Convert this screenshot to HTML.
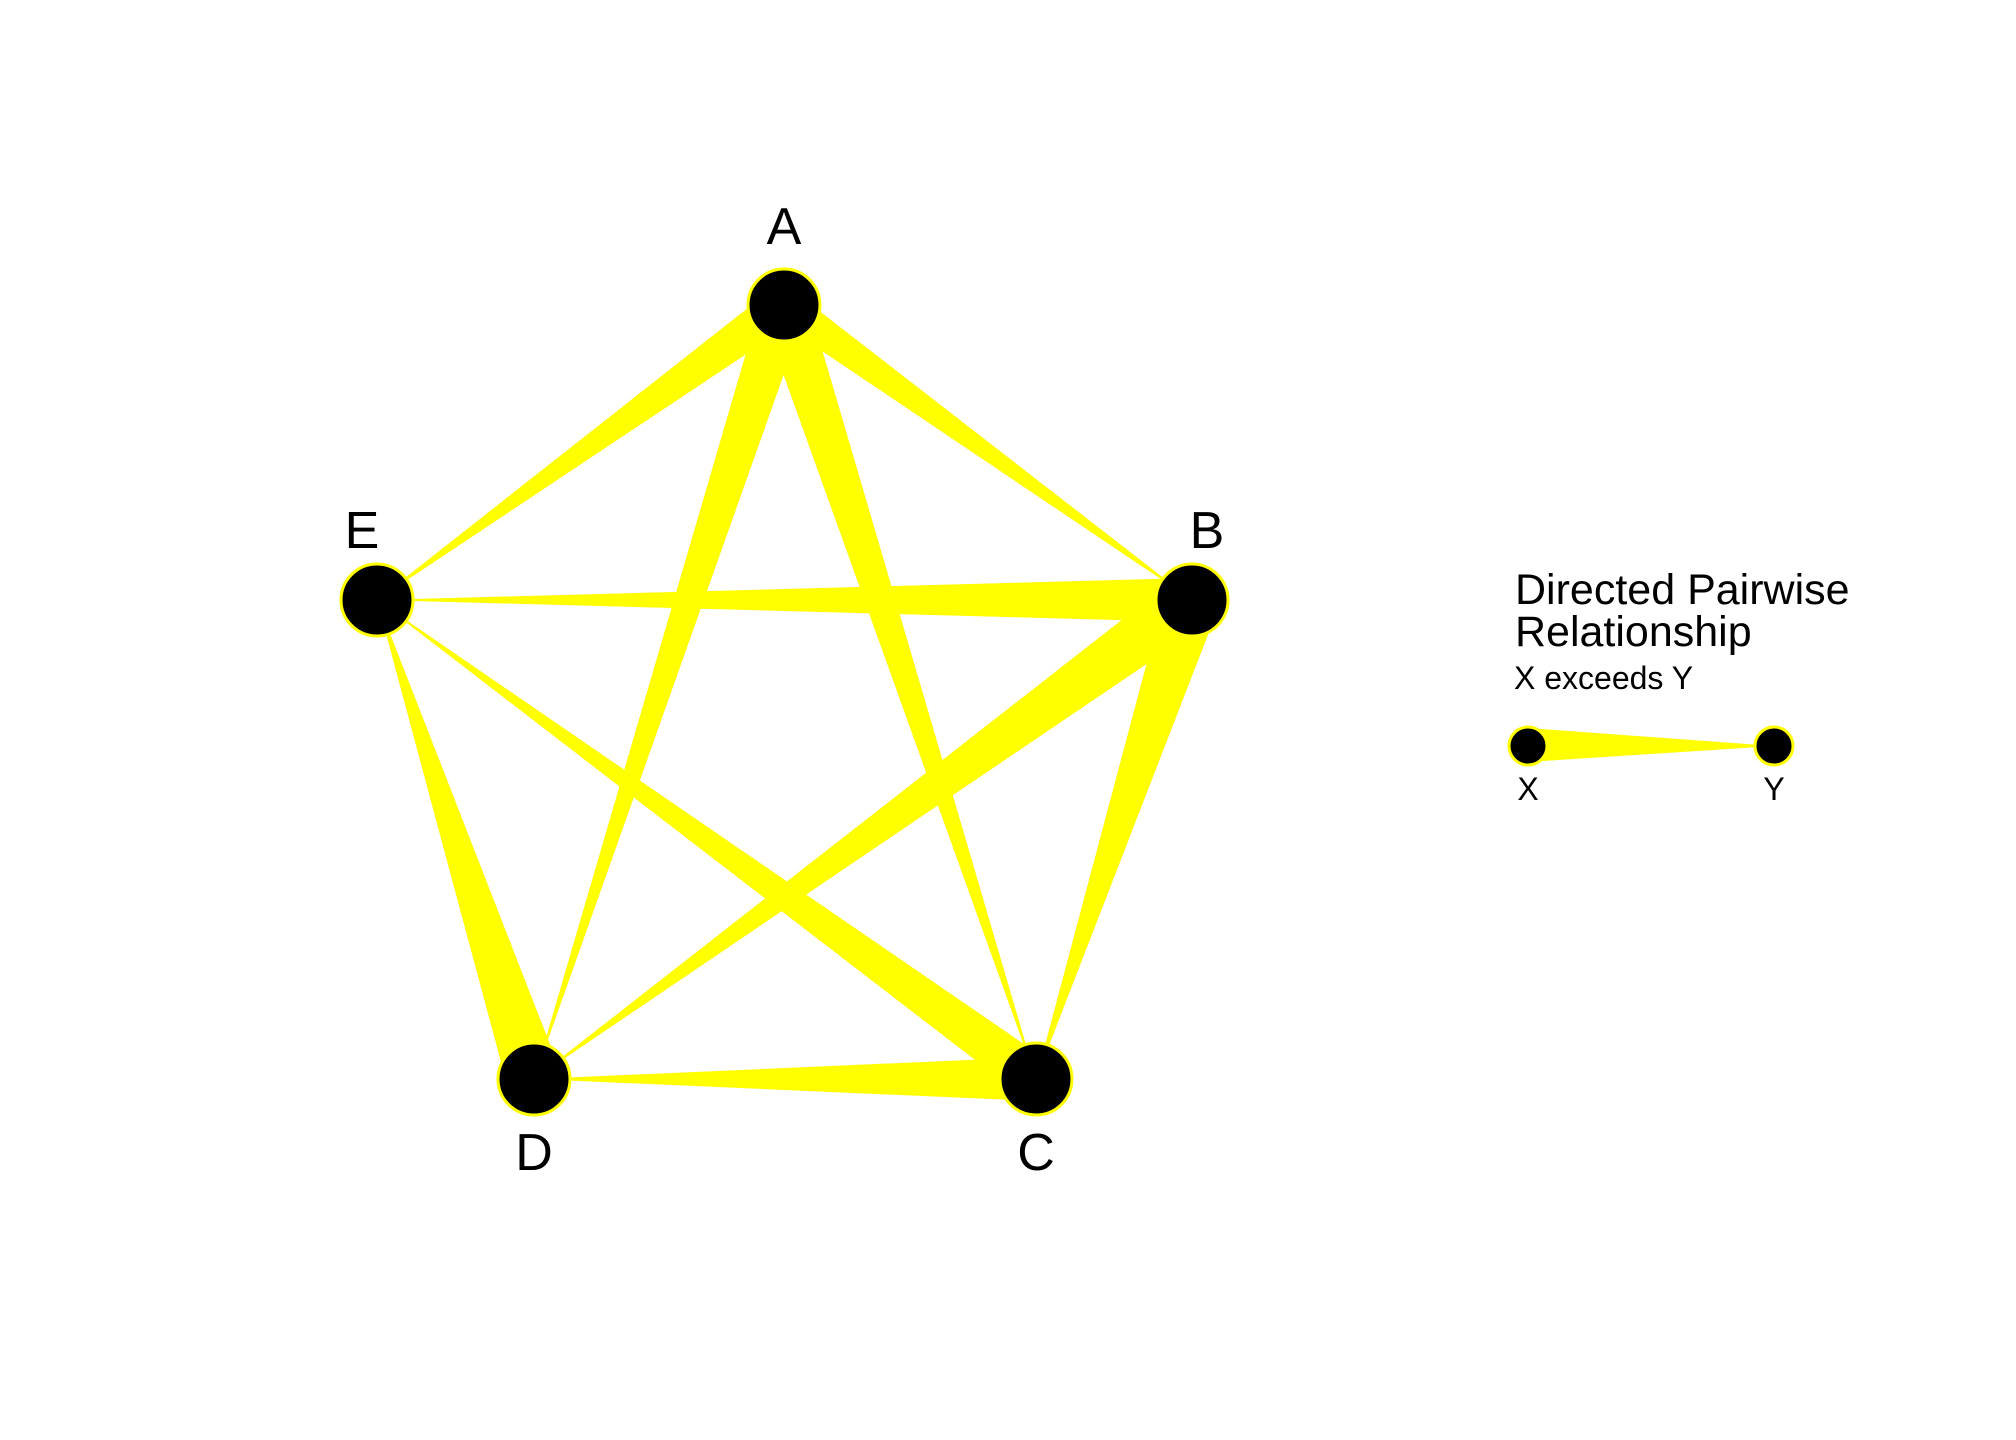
<!DOCTYPE html>
<html><head><meta charset="utf-8"><style>
html,body{margin:0;padding:0;background:#fff;width:2016px;height:1440px;overflow:hidden}
svg{display:block;font-family:"Liberation Sans",Arial,sans-serif}
</style></head><body>
<svg id="chart" width="2016" height="1440" viewBox="0 0 2016 1440">
<g id="edges"></g>
<g id="nodes"></g>
<g id="legend">
<text x="1515" y="604" font-size="43">Directed Pairwise</text>
<text x="1515" y="646" font-size="43">Relationship</text>
<text x="1514" y="689" font-size="32">X exceeds Y</text>
<polygon points="1528,728 1528,762 1774,746" fill="#ffff00"/>
<circle cx="1528" cy="746" r="19" fill="#000" stroke="#ffff00" stroke-width="3"/>
<circle cx="1774" cy="746" r="19" fill="#000" stroke="#ffff00" stroke-width="3"/>
<text x="1528" y="800" font-size="32" text-anchor="middle">X</text>
<text x="1774" y="800" font-size="32" text-anchor="middle">Y</text>
</g>
</svg>
<script>
const nodeNames = ["A","B","C","D","E"];
const edgeFrom = ["A","A","A","A","B","B","B","C","D","C"];
const edgeTo   = ["E","B","D","C","E","D","C","E","E","D"];
const edgeWidth = [40,34,46,48,44,55,55,44,55,44];
// layout (not data)
const pos = {A:[784,305],B:[1192,600],C:[1036,1079],D:[534,1079],E:[377,600]};
const labelPos = {A:[784,244],B:[1207,548],C:[1036,1170],D:[534,1170],E:[362,548]};
const NS="http://www.w3.org/2000/svg";
const eg=document.getElementById('edges'), ng=document.getElementById('nodes');
edgeFrom.forEach((f,i)=>{
  const t=edgeTo[i], w=edgeWidth[i];
  const [x1,y1]=pos[f],[x2,y2]=pos[t];
  const dx=x2-x1, dy=y2-y1, L=Math.hypot(dx,dy);
  const px=-dy/L*w/2, py=dx/L*w/2;
  const p=document.createElementNS(NS,'polygon');
  p.setAttribute('points',`${x1+px},${y1+py} ${x1-px},${y1-py} ${x2},${y2}`);
  p.setAttribute('fill','#ffff00');
  
  
  eg.appendChild(p);
});
nodeNames.forEach(n=>{
  const c=document.createElementNS(NS,'circle');
  c.setAttribute('cx',pos[n][0]);c.setAttribute('cy',pos[n][1]);c.setAttribute('r',36);
  c.setAttribute('fill','#000');c.setAttribute('stroke','#ffff00');c.setAttribute('stroke-width',3);
  
  
  ng.appendChild(c);
  const tx=document.createElementNS(NS,'text');
  tx.setAttribute('x',labelPos[n][0]);tx.setAttribute('y',labelPos[n][1]);
  tx.setAttribute('font-size',52);tx.setAttribute('text-anchor','middle');
  tx.textContent=n;
  
  
  ng.appendChild(tx);
});
</script>
</body></html>
